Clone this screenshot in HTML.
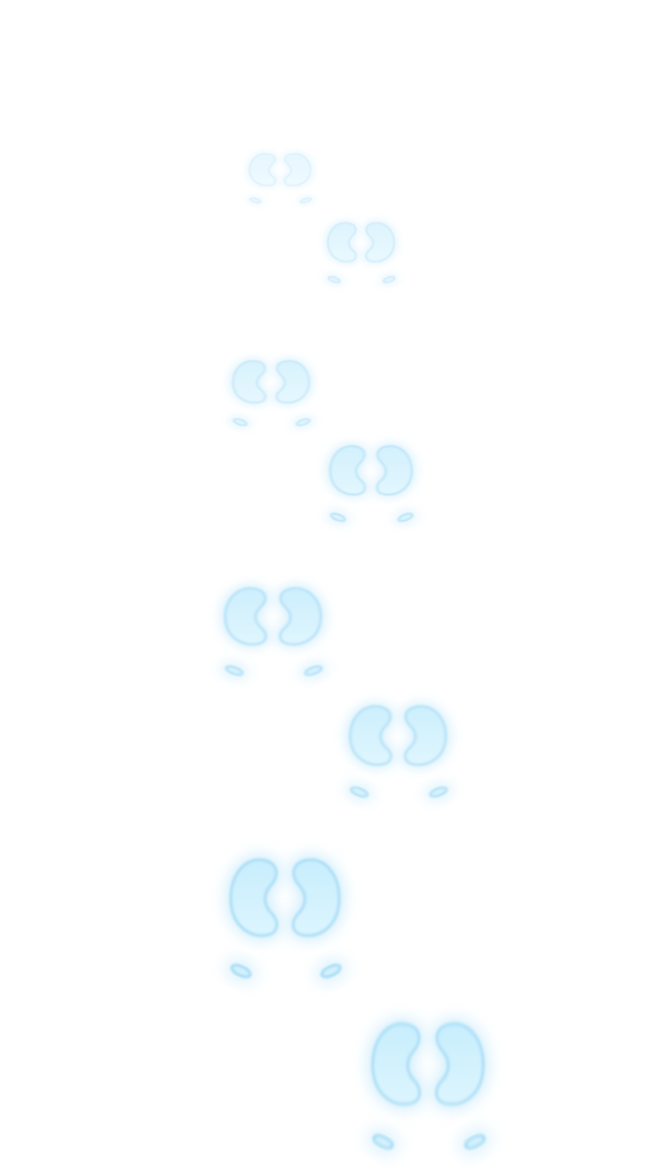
<!DOCTYPE html>
<html><head><meta charset="utf-8"><style>
html,body{margin:0;padding:0;background:#fff;width:645px;height:1170px;overflow:hidden}
</style></head><body>
<svg id="scene" width="645" height="1170" viewBox="0 0 645 1170" xmlns="http://www.w3.org/2000/svg">
<defs>
<linearGradient id="lobe" x1="0" y1="0" x2="0" y2="1">
<stop offset="0" stop-color="#c8eefd"/><stop offset="1" stop-color="#dcf5fe"/>
</linearGradient>
<filter id="glow" x="-50%" y="-50%" width="200%" height="200%"><feGaussianBlur stdDeviation="8"/></filter>
<filter id="soft" x="-20%" y="-20%" width="140%" height="140%"><feGaussianBlur stdDeviation="1.4"/></filter>
</defs>
<g id="prints"></g>
</svg>
<script>
const printX = [280, 361, 271, 371, 273, 398, 285, 428];
const printTop = [153, 222, 360, 445, 587, 705, 858, 1022];
const printScaleX = [0.56, 0.61, 0.70, 0.75, 0.88, 0.88, 1.0, 1.02];
const printScaleY = [0.42, 0.51, 0.55, 0.64, 0.74, 0.77, 1.0, 1.06];
const printOpacity = [0.45, 0.6, 0.7, 0.8, 0.9, 0.9, 1, 1];
const NS = 'http://www.w3.org/2000/svg';
const lobeL = 'M -22,2 C -42,-1 -56,20 -54,45 C -52,68 -35,80 -18,77 C -6,75 -6,63 -13,56 C -20,49 -24,38 -14,27 C -6,18 -6,5 -22,2 Z';
const g = document.getElementById('prints');
function mk(tag, attrs){const e=document.createElementNS(NS,tag);for(const k in attrs)e.setAttribute(k,attrs[k]);return e;}
for(let i=0;i<printX.length;i++){
  const p = mk('g',{transform:`translate(${printX[i]},${printTop[i]}) scale(${printScaleX[i]},${printScaleY[i]})`,opacity:printOpacity[i]});
  
  
  [1,-1].forEach(side=>{
    const halo = mk('path',{d:lobeL,transform:`scale(${side},1)`,fill:'#a8dff8',opacity:0.6,stroke:'#a8dff8','stroke-width':8,filter:'url(#glow)'});
    p.appendChild(halo);
    const lobe = mk('path',{d:lobeL,transform:`scale(${side},1)`,fill:'url(#lobe)',stroke:'#a6dcf6','stroke-width':2.5,filter:'url(#soft)'});
    
    
    p.appendChild(lobe);
    const cx = side>0?-44:46;
    const rot = side>0?25:-25;
    const dh = mk('ellipse',{cx:cx,cy:113,rx:16,ry:10,transform:`rotate(${rot} ${cx} 113)`,fill:'#b3e3f9',opacity:0.55,filter:'url(#glow)'});
    p.appendChild(dh);
    const dew = mk('ellipse',{cx:cx,cy:113,rx:10,ry:4.5,transform:`rotate(${rot} ${cx} 113)`,fill:'#d3f1fd',stroke:'#92d4f3','stroke-width':2,filter:'url(#soft)'});
    
    
    p.appendChild(dew);
  });
  g.appendChild(p);
}
</script>
</body></html>
